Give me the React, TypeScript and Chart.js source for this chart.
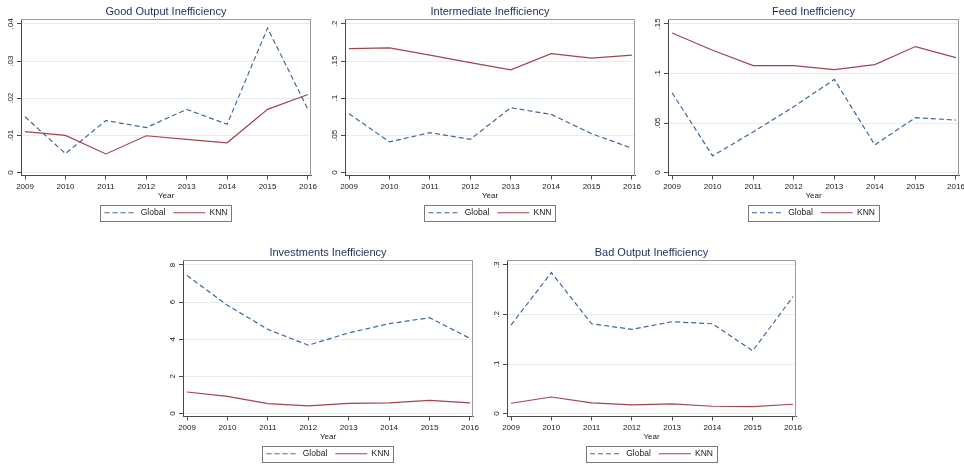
import React, { useEffect, useRef } from "react";
import { Chart, registerables } from "chart.js";

Chart.register(...registerables);

// ---------- data ----------
const years = [2009, 2010, 2011, 2012, 2013, 2014, 2015, 2016];
const yearLabels = ["2009", "2010", "2011", "2012", "2013", "2014", "2015", "2016"];
const seriesNames = ["Global", "KNN"];
const xAxisTitle = "Year";

const goodGlobal = [0.015, 0.0051, 0.014, 0.0121, 0.017, 0.013, 0.0389, 0.017];
const goodKnn = [0.011, 0.01, 0.005, 0.0099, 0.0089, 0.008, 0.017, 0.021];
const goodTicks = [0, 0.01, 0.02, 0.03, 0.04];
const goodTickLabels = ["0", ".01", ".02", ".03", ".04"];

const interGlobal = [0.0792, 0.0412, 0.0537, 0.0447, 0.0872, 0.0783, 0.0523, 0.0327];
const interKnn = [0.1669, 0.1678, 0.158, 0.148, 0.1383, 0.16, 0.154, 0.158];
const interTicks = [0, 0.05, 0.1, 0.15, 0.2];
const interTickLabels = ["0", ".05", ".1", ".15", ".2"];

const feedGlobal = [0.0805, 0.0168, 0.041, 0.0664, 0.094, 0.0279, 0.0554, 0.053];
const feedKnn = [0.1409, 0.1235, 0.108, 0.108, 0.104, 0.109, 0.1272, 0.116];
const feedTicks = [0, 0.05, 0.1, 0.15];
const feedTickLabels = ["0", ".05", ".1", ".15"];

const investGlobal = [7.43, 5.83, 4.53, 3.68, 4.34, 4.84, 5.16, 4.05];
const investKnn = [1.16, 0.92, 0.53, 0.41, 0.55, 0.57, 0.71, 0.57];
const investTicks = [0, 2, 4, 6, 8];
const investTickLabels = ["0", "2", "4", "6", "8"];

const badGlobal = [0.1787, 0.2847, 0.1813, 0.17, 0.1853, 0.1813, 0.1267, 0.236];
const badKnn = [0.0207, 0.0333, 0.0213, 0.0173, 0.0193, 0.0147, 0.014, 0.0187];
const badTicks = [0, 0.1, 0.2, 0.3];
const badTickLabels = ["0", ".1", ".2", ".3"];

// ---------- styles ----------
const FONT = "'Liberation Sans', Arial, Helvetica, sans-serif";
const GLOBAL_COLOR = "#40699a";
const KNN_COLOR = "#a5434d";
const TITLE_COLOR = "#1e2d5e";
const TEXT_COLOR = "#1a1a1a";
const AXIS_COLOR = "#4a4a4a";
const FRAME_COLOR = "#9b9b9b";
const GRID_COLOR = "#e4eef0";
const LEGEND_BOX_COLOR = "#7a7a7a";
const CANVAS_H = 227;

Chart.defaults.font.family = FONT;

type PanelDef = {
  title: string;
  global: number[];
  knn: number[];
  yTicks: number[];
  yTickLabels: string[];
  left: number;
  top: number;
  width: number;
  padRight: number;
};

const panels: PanelDef[] = [
  { title: "Good Output Inefficiency", global: goodGlobal, knn: goodKnn, yTicks: goodTicks, yTickLabels: goodTickLabels, left: 0, top: 0, width: 320, padRight: 9 },
  { title: "Intermediate Inefficiency", global: interGlobal, knn: interKnn, yTicks: interTicks, yTickLabels: interTickLabels, left: 324, top: 0, width: 320, padRight: 9 },
  { title: "Feed Inefficiency", global: feedGlobal, knn: feedKnn, yTicks: feedTicks, yTickLabels: feedTickLabels, left: 647, top: 0, width: 317, padRight: 5 },
  { title: "Investments Inefficiency", global: investGlobal, knn: investKnn, yTicks: investTicks, yTickLabels: investTickLabels, left: 162, top: 241, width: 320, padRight: 9 },
  { title: "Bad Output Inefficiency", global: badGlobal, knn: badKnn, yTicks: badTicks, yTickLabels: badTickLabels, left: 486, top: 241, width: 319, padRight: 9 },
];

const framePlugin = {
  id: "stataFrame",
  beforeDatasetsDraw(chart: any) {
    const { ctx, chartArea: a } = chart;
    ctx.save();
    ctx.strokeStyle = FRAME_COLOR;
    ctx.lineWidth = 1;
    ctx.beginPath();
    const t = Math.round(a.top) + 0.5;
    const r = Math.round(a.right) - 0.5;
    ctx.moveTo(Math.round(a.left), t);
    ctx.lineTo(r, t);
    ctx.lineTo(r, Math.round(a.bottom));
    ctx.stroke();
    ctx.restore();
  },
  afterDraw(chart: any) {
    const hb = chart.legend && chart.legend.legendHitBoxes;
    if (!hb || !hb.length) return;
    const { ctx } = chart;
    const l = Math.min(...hb.map((h: any) => h.left)) - 4;
    const r = Math.max(...hb.map((h: any) => h.left + h.width)) + 4;
    const cy = hb[0].top + hb[0].height / 2;
    ctx.save();
    ctx.strokeStyle = LEGEND_BOX_COLOR;
    ctx.lineWidth = 1;
    ctx.strokeRect(Math.round(l) + 0.5, Math.round(cy - 8) + 0.5, Math.round(r - l), 16);
    ctx.restore();
  },
};

function legendLabels(chart: any) {
  const items = (Chart.defaults as any).plugins.legend.labels.generateLabels(chart);
  items.forEach((it: any, i: number) => {
    const ds: any = chart.data.datasets[i];
    it.lineDash = ds.borderDash || [];
    it.strokeStyle = ds.borderColor;
    it.lineWidth = ds.borderWidth;
    it.pointStyle = "line";
  });
  return items;
}

function Panel({ def }: { def: PanelDef }) {
  const ref = useRef<HTMLCanvasElement>(null);
  useEffect(() => {
    const canvas = ref.current;
    if (!canvas) return;
    const topTick = def.yTicks[def.yTicks.length - 1];
    const yMax = topTick * (1 + 5 / 149);
    const yMin = -topTick * (3 / 149);
    const mctx = document.createElement("canvas").getContext("2d")!;
    mctx.font = `8px ${FONT}`;
    const widest = Math.max(...def.yTickLabels.map((s) => mctx.measureText(s).width));
    const yPad = Math.max(0, 10.5 - 4 - widest / 2);

    const chart = new Chart(canvas, {
      type: "line",
      data: {
        datasets: [
          {
            label: seriesNames[0],
            data: years.map((x, i) => ({ x, y: def.global[i] })),
            borderColor: GLOBAL_COLOR,
            backgroundColor: GLOBAL_COLOR,
            borderWidth: 1.2,
            borderDash: [5, 3],
            pointRadius: 0,
            tension: 0,
            fill: false,
          },
          {
            label: seriesNames[1],
            data: years.map((x, i) => ({ x, y: def.knn[i] })),
            borderColor: KNN_COLOR,
            backgroundColor: KNN_COLOR,
            borderWidth: 1.2,
            pointRadius: 0,
            tension: 0,
            fill: false,
          },
        ],
      },
      options: {
        animation: false,
        responsive: false,
        maintainAspectRatio: false,
        devicePixelRatio: 1,
        layout: { padding: { left: 0, right: def.padRight, top: 0, bottom: 0 } },
        plugins: {
          title: {
            display: true,
            text: def.title,
            color: TITLE_COLOR,
            font: { size: 11, weight: "normal" },
            padding: { top: 5, bottom: 0.8 },
            fullSize: false,
          },
          legend: {
            position: "bottom",
            fullSize: false,
            labels: {
              usePointStyle: true,
              pointStyle: "line",
              pointStyleWidth: 32,
              font: { size: 8.5 },
              color: TEXT_COLOR,
              padding: 8,
              generateLabels: legendLabels,
            },
          },
          tooltip: { enabled: false },
        },
        scales: {
          x: {
            type: "linear",
            min: 2008.9,
            max: 2016.075,
            bounds: "data",
            afterBuildTicks: (s: any) => {
              s.ticks = years.map((v) => ({ value: v }));
            },
            afterFit: (s: any) => {
              s.height = 25;
              s.paddingLeft = 0;
              s.paddingRight = 0;
            },
            ticks: {
              autoSkip: false,
              maxRotation: 0,
              minRotation: 0,
              padding: 2,
              color: TEXT_COLOR,
              font: { size: 8 },
              callback: (_v: any, i: number) => yearLabels[i],
            },
            grid: { drawOnChartArea: false, drawTicks: true, tickLength: 4, tickColor: AXIS_COLOR },
            border: { color: AXIS_COLOR, width: 1 },
            title: { display: true, text: xAxisTitle, color: TEXT_COLOR, font: { size: 8 }, padding: { top: 0, bottom: 0 } },
          },
          y: {
            type: "linear",
            min: yMin,
            max: yMax,
            bounds: "data",
            afterBuildTicks: (s: any) => {
              s.ticks = def.yTicks.map((v) => ({ value: v }));
            },
            afterFit: (s: any) => {
              s.width = 21;
              s.paddingTop = 0;
              s.paddingBottom = 0;
            },
            ticks: {
              autoSkip: false,
              minRotation: 90,
              maxRotation: 90,
              crossAlign: "center",
              padding: yPad,
              color: TEXT_COLOR,
              font: { size: 8 },
              callback: (_v: any, i: number) => def.yTickLabels[i],
            },
            grid: { color: GRID_COLOR, lineWidth: 1, tickLength: 4, tickColor: AXIS_COLOR },
            border: { color: AXIS_COLOR, width: 1 },
          },
        },
      } as any,
      plugins: [framePlugin],
    });
    return () => chart.destroy();
  }, [def]);

  return (
    <canvas
      ref={ref}
      width={def.width}
      height={CANVAS_H}
      style={{ position: "absolute", left: def.left, top: def.top, width: def.width, height: CANVAS_H }}
    />
  );
}

export default function App() {
  return (
    <div
      style={{
        position: "absolute",
        left: 0,
        top: 0,
        width: 964,
        height: 464,
        overflow: "hidden",
        background: "#ffffff",
      }}
    >
      {panels.map((p) => (
        <Panel key={p.title} def={p} />
      ))}
    </div>
  );
}
